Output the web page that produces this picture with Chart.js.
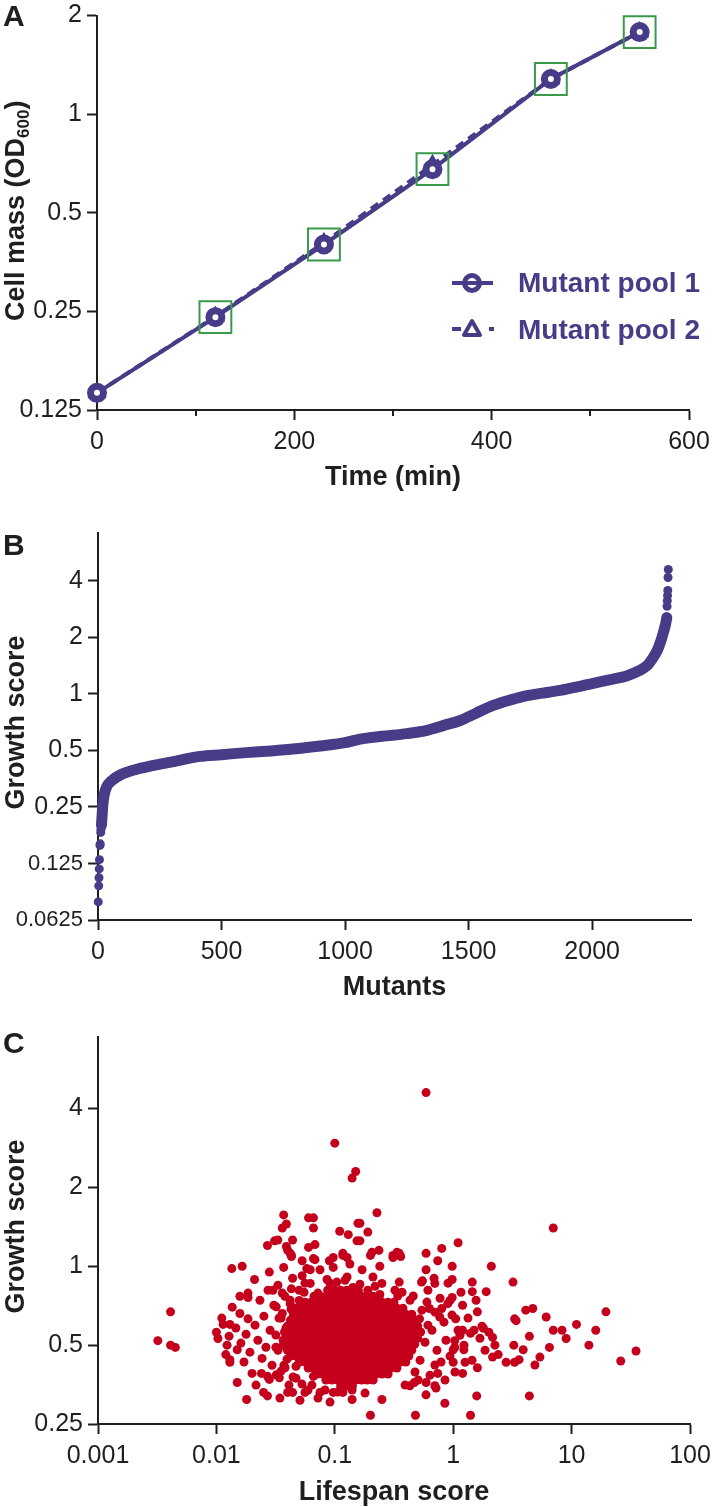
<!DOCTYPE html>
<html>
<head>
<meta charset="utf-8">
<title>Mutant pool growth and lifespan scores</title>
<script src="https://cdn.jsdelivr.net/npm/chart.js@4.4.1/dist/chart.umd.min.js"></script>
<style>
  html, body { margin: 0; padding: 0; background: #fff; }
  body { width: 714px; height: 1507px; position: relative; overflow: hidden; }
  canvas { position: absolute; left: 0; }
</style>
</head>
<body>
<canvas id="chartA" width="714" height="509" style="top:-9px"></canvas>
<canvas id="chartB" width="714" height="505" style="top:500px"></canvas>
<canvas id="chartC" width="714" height="502" style="top:1005px"></canvas>
<script>
const FONT = '"Liberation Sans", Arial, Helvetica, sans-serif';
const INK = '#1f1f1f';
const PURPLE = '#463c87';
const GREEN = '#3a9a49';
const RED = '#c4001c';

// ---- panel A: cell mass over time ----
const timeMin = [0, 120, 230, 340, 460, 550];
const pool1OD = [0.141, 0.240, 0.400, 0.679, 1.28, 1.78];
const pool2OD = [0.141, 0.241, 0.405, 0.700, 1.28, 1.78];
const odTicks = [0.125, 0.25, 0.5, 1, 2];
const timeTicks = [0, 200, 400, 600];
const timeMinorTicks = [100, 300, 500];

// ---- panel B: ranked growth scores ----
const mutantTicks = [0, 500, 1000, 1500, 2000];
const growthTicksB = [0.0625, 0.125, 0.25, 0.5, 1, 2, 4];
const rankLowTail = [1, 3, 4, 5, 6, 8, 9, 11, 12];
const scoreLowTail = [0.078, 0.095, 0.105, 0.117, 0.131, 0.156, 0.159, 0.183, 0.19];
const rankBand = [14, 17, 20, 25, 35, 55, 90, 150, 220, 300, 413, 500, 600, 700, 800, 900, 1000, 1061,
  1150, 1250, 1332, 1400, 1466, 1530, 1599, 1670, 1737, 1800, 1870, 1940, 2004, 2070, 2142, 2190,
  2223, 2245, 2263, 2277, 2287, 2297, 2302];
const scoreBand = [0.2, 0.23, 0.26, 0.29, 0.32, 0.345, 0.37, 0.395, 0.415, 0.435, 0.465, 0.475, 0.487, 0.497, 0.51, 0.528, 0.55, 0.575,
  0.595, 0.615, 0.64, 0.68, 0.722, 0.79, 0.868, 0.93, 0.98, 1.01, 1.044, 1.09, 1.14, 1.19, 1.25, 1.33,
  1.42, 1.55, 1.7, 1.9, 2.1, 2.35, 2.55];
const rankHighTail = [2303, 2304, 2305, 2306, 2307, 2308];
const scoreHighTail = [2.93, 3.14, 3.34, 3.56, 4.17, 4.6];

// ---- panel C: lifespan score vs growth score ----
const lifespanTicks = [0.001, 0.01, 0.1, 1, 10, 100];
const growthTicksC = [0.25, 0.5, 1, 2, 4];
// [lifespan, growth]
const upperPoints = [
  [0.59, 4.6], [0.1, 2.95], [0.15, 2.3], [0.14, 2.17],
  [0.037, 1.57], [0.039, 1.45], [0.036, 1.4], [0.06, 1.53], [0.066, 1.53], [0.066, 1.4], [0.11, 1.36], [0.13, 1.32],
  [0.157, 1.46], [0.154, 1.25], [0.027, 1.2], [0.031, 1.25], [0.033, 1.26], [0.044, 1.26], [0.039, 1.19], [0.04, 1.15],
  [0.043, 1.1], [0.06, 1.18], [0.068, 1.21], [0.066, 1.07], [0.097, 1.08], [0.117, 1.12], [0.127, 1.08],
  [0.227, 1.6], [0.163, 1.46], [0.19, 1.35], [0.163, 1.25], [0.206, 1.13], [0.236, 1.15], [0.31, 1.1], [0.335, 1.13],
  [0.36, 1.09], [0.59, 1.12], [0.8, 1.17], [1.1, 1.23], [7.0, 1.4], [0.74, 1.05],
  [0.042, 1.12], [0.053, 1.05], [0.062, 0.97], [0.075, 0.97], [0.09, 1.05], [0.097, 0.99], [0.117, 1.1], [0.134, 1.02],
  [0.086, 0.89], [0.104, 0.87], [0.127, 0.91], [0.044, 0.9], [0.053, 0.92], [0.062, 0.86], [0.072, 0.79], [0.087, 0.81],
  [0.11, 0.79], [0.142, 0.83], [0.157, 0.78], [0.032, 0.7], [0.036, 0.66], [0.042, 0.72], [0.05, 0.74],
  [0.2, 1.1], [0.31, 1.08], [0.35, 1.12], [0.24, 1.0], [0.17, 0.97], [0.21, 0.91], [0.25, 0.86], [0.35, 0.87],
  [0.55, 0.88], [0.7, 0.86], [0.46, 0.77], [0.6, 0.73], [0.34, 0.77], [0.24, 0.78], [0.19, 0.81],
  [0.091, 0.862], [0.122, 0.884], [0.163, 0.854], [0.219, 0.839], [0.0826, 0.337], [0.106, 0.331], [0.14, 0.337], [0.18, 0.328]
];
const leftPoints = [
  [0.0032, 0.52], [0.0041, 0.67], [0.0041, 0.5], [0.0045, 0.49],
  [0.0165, 1.0], [0.0135, 0.98], [0.021, 0.89], [0.037, 0.99], [0.028, 0.95], [0.043, 1.09], [0.068, 1.06], [0.058, 0.98],
  [0.0185, 0.79], [0.0185, 0.76], [0.03, 0.81], [0.036, 0.79], [0.043, 0.82],
  [0.01, 0.56], [0.0103, 0.53], [0.0114, 0.6], [0.013, 0.6], [0.0123, 0.5], [0.012, 0.46], [0.013, 0.44], [0.013, 0.43],
  [0.015, 0.36], [0.018, 0.31], [0.0158, 0.66], [0.0185, 0.63], [0.015, 0.48],
  [0.024, 0.39], [0.027, 0.38], [0.028, 0.37], [0.025, 0.33], [0.027, 0.32], [0.032, 0.385], [0.034, 0.375], [0.038, 0.41],
  [0.04, 0.33], [0.044, 0.33], [0.056, 0.33], [0.066, 0.38], [0.075, 0.33], [0.097, 0.33], [0.117, 0.33], [0.14, 0.31],
  [0.0111, 0.634], [0.0128, 0.541], [0.0146, 0.581], [0.0161, 0.509], [0.0178, 0.55], [0.0192, 0.47], [0.0212, 0.596],
  [0.0224, 0.522], [0.0243, 0.445], [0.0252, 0.645], [0.0262, 0.491], [0.0284, 0.57], [0.0295, 0.419], [0.0306, 0.71],
  [0.0318, 0.491], [0.0338, 0.634], [0.0352, 0.398], [0.0366, 0.522], [0.0379, 0.768], [0.0395, 0.442], [0.041, 0.352],
  [0.0427, 0.686], [0.0444, 0.378], [0.047, 0.415], [0.0499, 0.81], [0.0528, 0.355], [0.056, 0.862], [0.0594, 0.337],
  [0.0171, 0.431], [0.02, 0.39], [0.0136, 0.698], [0.0158, 0.768], [0.0233, 0.742], [0.0273, 0.81], [0.0331, 0.846],
  [0.0216, 0.352], [0.0344, 0.314], [0.0508, 0.308], [0.0721, 0.314], [0.0911, 0.303],
  [0.0352, 0.634], [0.0331, 0.478], [0.0372, 0.419], [0.0419, 0.742], [0.047, 0.374], [0.055, 0.796], [0.0641, 0.352],
  [0.0318, 0.546], [0.0387, 0.581], [0.0366, 0.5]
];
const rightPoints = [
  [2.1, 1.0], [3.2, 0.87], [19.5, 0.67], [11, 0.6], [16, 0.57], [7.0, 0.57], [8.3, 0.57], [9, 0.53], [14, 0.5],
  [6.5, 0.49], [35, 0.475], [26, 0.435], [6.1, 0.64], [4.1, 0.68], [4.7, 0.69], [3.3, 0.63], [3.4, 0.62], [4.4, 0.54],
  [3.25, 0.5], [3.9, 0.48], [5.4, 0.45], [4.9, 0.42], [4.4, 0.32], [2.8, 0.43], [3.3, 0.43], [3.6, 0.44], [2.4, 0.46],
  [2.15, 0.45], [2.25, 0.5], [2.15, 0.535], [2.0, 0.56], [1.8, 0.58], [1.45, 0.87], [1.45, 0.8], [1.9, 0.8],
  [0.98, 1.0], [0.98, 0.89], [0.59, 0.97], [0.54, 0.87], [0.98, 0.76], [0.94, 0.74], [0.9, 0.72], [0.8, 0.69],
  [0.77, 0.64], [1.2, 0.71], [1.05, 0.63], [1.6, 0.67], [1.75, 0.59], [1.5, 0.57], [1.4, 0.555], [1.2, 0.57],
  [1.14, 0.545], [1.03, 0.52], [1.03, 0.49], [1.0, 0.48], [1.0, 0.43], [1.23, 0.48], [1.26, 0.43], [1.2, 0.39],
  [1.6, 0.41], [1.58, 0.32], [1.4, 0.27], [0.85, 0.3], [0.48, 0.27], [0.2, 0.27], [0.25, 0.31], [0.43, 0.35],
  [0.47, 0.36], [0.59, 0.36], [0.7, 0.35], [0.74, 0.39], [0.7, 0.42], [0.63, 0.69], [0.52, 0.63],
  [0.612, 0.81], [0.662, 0.57], [0.702, 0.668], [0.729, 0.478], [0.774, 0.755], [0.789, 0.431], [0.836, 0.612],
  [0.869, 0.522], [0.904, 0.862], [0.94, 0.454], [0.977, 0.651], [1.035, 0.395], [1.099, 0.57], [1.164, 0.796],
  [1.233, 0.5], [1.334, 0.634], [1.442, 0.438], [1.56, 0.742], [1.683, 0.531], [1.857, 0.478], [0.637, 0.384],
  [0.716, 0.343], [0.589, 0.323], [0.853, 0.368], [0.689, 0.9],
  [0.544, 0.68], [0.578, 0.513], [0.525, 0.438], [0.476, 0.395], [0.432, 0.742], [0.37, 0.796], [0.612, 0.596],
  [0.505, 0.368], [0.392, 0.352], [0.322, 0.81]
];
// the solid cloud: overlapping dots at these lifespan positions, one row per growth level
const coreSteps = [0.0282, 0.0316, 0.0355, 0.0398, 0.0447, 0.0501, 0.0562, 0.0631, 0.0708, 0.0794, 0.0891, 0.1,
  0.112, 0.126, 0.141, 0.158, 0.178, 0.2, 0.224, 0.251, 0.282, 0.316, 0.355, 0.398, 0.447, 0.501, 0.562, 0.631];
const coreStepsMid = [0.0299, 0.0335, 0.0376, 0.0422, 0.0473, 0.0531, 0.0596, 0.0668, 0.075, 0.0841, 0.0944, 0.106,
  0.119, 0.133, 0.15, 0.168, 0.188, 0.211, 0.237, 0.266, 0.299, 0.335, 0.376, 0.422, 0.473, 0.531, 0.596];
// [growth, use mid steps, first lifespan, last lifespan]
const coreRows = [
  [0.81, false, 0.0891, 0.158],
  [0.768, true, 0.0668, 0.237],
  [0.729, false, 0.0562, 0.316],
  [0.692, true, 0.0473, 0.376],
  [0.656, false, 0.0447, 0.447],
  [0.622, true, 0.0422, 0.473],
  [0.591, false, 0.0398, 0.501],
  [0.561, true, 0.0376, 0.531],
  [0.531, false, 0.0398, 0.501],
  [0.504, true, 0.0376, 0.473],
  [0.478, false, 0.0398, 0.447],
  [0.454, true, 0.0422, 0.422],
  [0.431, false, 0.0501, 0.398],
  [0.409, true, 0.0596, 0.335],
  [0.388, false, 0.0708, 0.282],
  [0.368, true, 0.0841, 0.211],
  [0.349, false, 0.112, 0.141]
];

function makeAxis(type, min, max, tickValues, size, isX, fontFn) {
  return {
    type: type,
    min: min,
    max: max,
    afterBuildTicks: function(scale) {
      scale.ticks = tickValues.map(v => ({ value: v }));
    },
    afterFit: function(scale) {
      if (isX) {
        scale.height = size;
        scale.paddingLeft = 0;
        scale.paddingRight = 0;
      } else {
        scale.width = size;
        scale.paddingTop = 0;
        scale.paddingBottom = 0;
      }
    },
    border: { display: true, color: INK, width: 2 },
    grid: { display: true, drawOnChartArea: false, drawTicks: true, tickLength: 10, tickWidth: 2, tickColor: INK },
    ticks: {
      color: INK,
      font: fontFn || { family: FONT, size: 25 },
      padding: isX ? 7 : 5,
      autoSkip: false,
      maxRotation: 0,
      minRotation: 0,
      callback: v => String(v)
    }
  };
}

function decorPlugin(cfg) {
  return {
    id: 'decor' + cfg.letter,
    afterDraw(chart) {
      const ctx = chart.ctx;
      const area = chart.chartArea;
      ctx.save();
      ctx.fillStyle = INK;
      ctx.textBaseline = 'alphabetic';

      ctx.font = 'bold 30px ' + FONT;
      ctx.textAlign = 'left';
      ctx.fillText(cfg.letter, 3, cfg.letterBase);

      ctx.font = 'bold 27px ' + FONT;
      ctx.textAlign = 'center';
      ctx.fillText(cfg.xTitle, (area.left + area.right) / 2, cfg.xTitleBase);

      ctx.translate(cfg.yTitleBase, (area.top + area.bottom) / 2 + (cfg.yShift || 0));
      ctx.rotate(-Math.PI / 2);
      ctx.textAlign = 'left';
      const big = 'bold 27px ' + FONT;
      const small = 'bold 17px ' + FONT;
      ctx.font = big;
      const w1 = ctx.measureText(cfg.yTitle).width;
      let w2 = 0, w3 = 0;
      if (cfg.ySub) {
        ctx.font = small;
        w2 = ctx.measureText(cfg.ySub).width;
        ctx.font = big;
        w3 = ctx.measureText(cfg.yTail).width;
      }
      let x = -(w1 + w2 + w3) / 2;
      ctx.font = big;
      ctx.fillText(cfg.yTitle, x, 0);
      if (cfg.ySub) {
        x += w1;
        ctx.font = small;
        ctx.fillText(cfg.ySub, x, 5);
        x += w2;
        ctx.font = big;
        ctx.fillText(cfg.yTail, x, 0);
      }
      ctx.restore();
      if (cfg.extra) cfg.extra(chart);
    }
  };
}

// canvas A sits 9px above the page top, so its legend rows are drawn 9px lower
function drawLegendA(chart) {
  const ctx = chart.ctx;
  const xs = chart.scales.x;
  const row1 = 292, row2 = 338;
  ctx.save();
  // minor time ticks
  ctx.strokeStyle = INK;
  ctx.lineWidth = 2;
  timeMinorTicks.forEach(t => {
    const px = Math.round(xs.getPixelForValue(t));
    ctx.beginPath();
    ctx.moveTo(px, chart.chartArea.bottom);
    ctx.lineTo(px, chart.chartArea.bottom + 6);
    ctx.stroke();
  });

  ctx.strokeStyle = PURPLE;
  ctx.fillStyle = PURPLE;
  ctx.lineWidth = 4;
  // pool 1 key
  ctx.beginPath();
  ctx.moveTo(452, row1);
  ctx.lineTo(493, row1);
  ctx.stroke();
  ctx.lineWidth = 5;
  ctx.beginPath();
  ctx.arc(472, row1, 7.5, 0, Math.PI * 2);
  ctx.stroke();
  // pool 2 key
  ctx.lineWidth = 4;
  ctx.beginPath();
  ctx.moveTo(452, row2);
  ctx.lineTo(461, row2);
  ctx.stroke();
  ctx.fillRect(489, row2 - 2, 5, 4);
  ctx.lineJoin = 'round';
  ctx.beginPath();
  ctx.moveTo(472, row2 - 8);
  ctx.lineTo(480, row2 + 6);
  ctx.lineTo(464, row2 + 6);
  ctx.closePath();
  ctx.stroke();

  ctx.font = 'bold 28px ' + FONT;
  ctx.textAlign = 'left';
  ctx.textBaseline = 'alphabetic';
  ctx.fillText('Mutant pool 1', 518, row1 + 9);
  ctx.fillText('Mutant pool 2', 518, row2 + 10);
  ctx.restore();
}

const baseOptions = {
  responsive: false,
  animation: false,
  devicePixelRatio: 1,
  events: [],
  plugins: { legend: { display: false }, tooltip: { enabled: false } }
};

// ---------- chart A ----------
new Chart(document.getElementById('chartA'), {
  type: 'scatter',
  data: {
    datasets: [
      {
        label: 'boxes',
        data: timeMin.slice(1).map((t, i) => ({ x: t, y: pool1OD[i + 1] })),
        showLine: false,
        pointStyle: 'rect',
        pointRadius: 22.5,
        pointBorderColor: GREEN,
        pointBorderWidth: 2,
        pointBackgroundColor: 'rgba(0,0,0,0)',
        clip: false
      },
      {
        label: 'Mutant pool 1',
        data: timeMin.map((t, i) => ({ x: t, y: pool1OD[i] })),
        showLine: true,
        borderColor: PURPLE,
        borderWidth: 4,
        pointStyle: 'circle',
        pointRadius: 6.5,
        pointBorderWidth: 7,
        pointBorderColor: PURPLE,
        pointBackgroundColor: '#ffffff',
        clip: false
      },
      {
        label: 'Mutant pool 2',
        data: timeMin.map((t, i) => ({ x: t, y: pool2OD[i] })),
        showLine: true,
        borderColor: PURPLE,
        borderWidth: 4,
        borderDash: [9, 6],
        pointStyle: 'triangle',
        pointRadius: 7,
        pointBorderWidth: 4,
        pointBorderColor: PURPLE,
        pointBackgroundColor: '#ffffff',
        clip: false
      }
    ]
  },
  options: Object.assign({}, baseOptions, {
    layout: { padding: { top: 15, right: 25, bottom: 0, left: 0 } },
    scales: {
      x: makeAxis('linear', 0, 600, timeTicks, 90, true),
      y: makeAxis('logarithmic', 0.125, 2, odTicks, 97, false)
    }
  }),
  plugins: [decorPlugin({
    letter: 'A', letterBase: 35,
    xTitle: 'Time (min)', xTitleBase: 494,
    yTitle: 'Cell mass (OD', ySub: '600', yTail: ')', yTitleBase: 24, yShift: -2,
    extra: drawLegendA
  })]
});

// ---------- chart B ----------
new Chart(document.getElementById('chartB'), {
  type: 'scatter',
  data: {
    datasets: [
      {
        label: 'low tail',
        data: rankLowTail.map((r, i) => ({ x: r, y: scoreLowTail[i] })),
        pointRadius: 4.5,
        pointBorderWidth: 0,
        pointBackgroundColor: PURPLE,
        clip: false
      },
      {
        label: 'high tail',
        data: rankHighTail.map((r, i) => ({ x: r, y: scoreHighTail[i] })),
        pointRadius: 4.5,
        pointBorderWidth: 0,
        pointBackgroundColor: PURPLE,
        clip: false
      },
      {
        label: 'ranked mutants',
        data: rankBand.map((r, i) => ({ x: r, y: scoreBand[i] })),
        showLine: true,
        borderColor: PURPLE,
        borderWidth: 11,
        borderCapStyle: 'round',
        borderJoinStyle: 'round',
        cubicInterpolationMode: 'monotone',
        pointRadius: 0,
        clip: false
      }
    ]
  },
  options: Object.assign({}, baseOptions, {
    layout: { padding: { top: 33, right: 23, bottom: 0, left: 0 } },
    scales: {
      x: makeAxis('linear', 0, 2400, mutantTicks, 85, true),
      y: makeAxis('logarithmic', 0.0625, 7.2, growthTicksB, 98, false,
        c => ({ family: FONT, size: c.tick && c.tick.value < 0.2 ? 22 : 25 }))
    }
  }),
  plugins: [decorPlugin({
    letter: 'B', letterBase: 55,
    xTitle: 'Mutants', xTitleBase: 495,
    yTitle: 'Growth score', yTitleBase: 24, yShift: -4
  })]
});

// ---------- chart C ----------
const corePoints = [];
coreRows.forEach(row => {
  const steps = row[1] ? coreStepsMid : coreSteps;
  steps.filter(l => l >= row[2] && l <= row[3]).forEach(l => corePoints.push([l, row[0]]));
});
const scatterC = upperPoints.concat(leftPoints, rightPoints, corePoints);

new Chart(document.getElementById('chartC'), {
  type: 'scatter',
  data: {
    datasets: [{
      label: 'mutants',
      data: scatterC.map(p => ({ x: p[0], y: p[1] })),
      pointRadius: 4.5,
      pointBorderWidth: 0,
      pointBackgroundColor: RED,
      clip: false
    }]
  },
  options: Object.assign({}, baseOptions, {
    layout: { padding: { top: 32, right: 24, bottom: 0, left: 0 } },
    scales: {
      x: makeAxis('logarithmic', 0.001, 100, lifespanTicks, 83, true),
      y: makeAxis('logarithmic', 0.25, 7.5, growthTicksC, 98, false)
    }
  }),
  plugins: [decorPlugin({
    letter: 'C', letterBase: 48,
    xTitle: 'Lifespan score', xTitleBase: 495,
    yTitle: 'Growth score', yTitleBase: 24, yShift: -4
  })]
});
</script>
</body>
</html>
